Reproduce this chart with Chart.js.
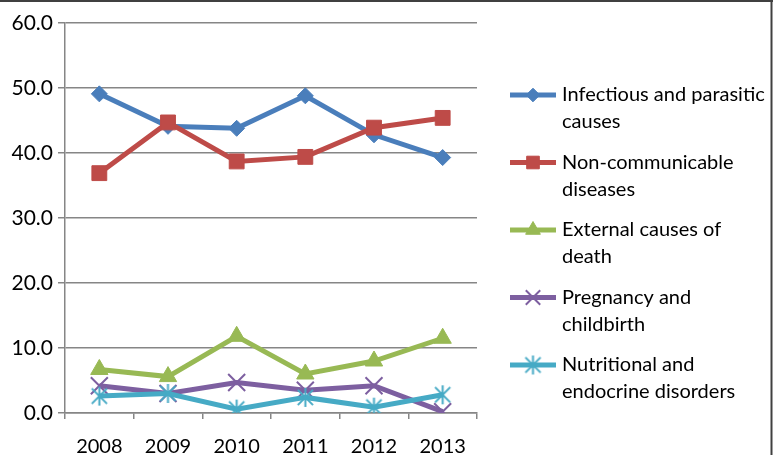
<!DOCTYPE html>
<html>
<head>
<meta charset="utf-8">
<script src="https://cdn.jsdelivr.net/npm/chart.js@4/dist/chart.umd.min.js"></script>
<style>
  html, body { margin: 0; padding: 0; background: #fff; }
  #wrap { position: relative; width: 773px; height: 455px; }
</style>
</head>
<body>
<div id="wrap"><canvas id="c" width="773" height="455"></canvas></div>
<script>
// Share of deaths by cause group, per year (%)
const years = ['2008', '2009', '2010', '2011', '2012', '2013'];
const infectious    = [49.1, 44.1, 43.8, 48.8, 42.8, 39.3];
const nonCommunic   = [36.9, 44.7, 38.7, 39.4, 43.9, 45.4];
const external      = [6.7, 5.6, 11.8, 6.0, 8.0, 11.5];
const pregnancy     = [4.2, 3.0, 4.7, 3.5, 4.2, 0.2];
const nutritional   = [2.6, 3.0, 0.6, 2.4, 0.9, 2.8];
const seriesNames = [
  ['Infectious and parasitic', 'causes'],
  ['Non-communicable', 'diseases'],
  ['External causes of', 'death'],
  ['Pregnancy and', 'childbirth'],
  ['Nutritional and', 'endocrine disorders']
];
const yTicks = [0, 10, 20, 30, 40, 50, 60];

const FONT = 'Lato, "Open Sans", sans-serif';
const colors = ['#4A7EBB', '#BE4B48', '#98B954', '#7D5FA0', '#46AAC5'];

// asterisk marker: an X crossed by a vertical bar
function starMarker(color, size, lw) {
  const c = document.createElement('canvas');
  c.width = size; c.height = size;
  const g = c.getContext('2d');
  g.strokeStyle = color; g.lineWidth = lw; g.lineCap = 'butt';
  const m = size / 2, r = size / 2 - 1;
  const d = r * 0.8;
  g.beginPath();
  g.moveTo(m - d, m - d); g.lineTo(m + d, m + d);
  g.moveTo(m + d, m - d); g.lineTo(m - d, m + d);
  g.moveTo(m, m - r); g.lineTo(m, m + r);
  g.stroke();
  return c;
}

const series = [infectious, nonCommunic, external, pregnancy, nutritional];
const styles = [
  { pointStyle: 'rectRot', radius: 8, bw: 1 },
  { pointStyle: 'rect', radius: 10.5, bw: 1 },
  { pointStyle: 'triangle', radius: 10, bw: 1 },
  { pointStyle: 'crossRot', radius: 12, bw: 2 },
  { pointStyle: starMarker(colors[4], 21, 2), radius: 10, bw: 2 }
];

const datasets = series.map((data, i) => ({
  label: seriesNames[i].join(' '),
  data: data,
  borderColor: colors[i],
  backgroundColor: colors[i],
  borderWidth: 5,
  pointStyle: styles[i].pointStyle,
  pointRadius: styles[i].radius,
  pointBorderWidth: styles[i].bw,
  pointBackgroundColor: colors[i],
  pointBorderColor: colors[i],
  tension: 0,
  order: series.length - i
}));

// legend on the right, two text lines per entry
const sideLegend = {
  id: 'sideLegend',
  afterDraw(chart) {
    const ctx = chart.ctx;
    ctx.save();
    chart.data.datasets.forEach((ds, i) => {
      const y = 95 + i * 67.5;
      ctx.strokeStyle = ds.borderColor;
      ctx.lineWidth = 5;
      ctx.beginPath();
      ctx.moveTo(510, y); ctx.lineTo(556, y);
      ctx.stroke();
      ctx.fillStyle = ds.pointBackgroundColor;
      ctx.strokeStyle = ds.pointBorderColor;
      ctx.lineWidth = ds.pointBorderWidth;
      Chart.helpers.drawPoint(ctx, {
        pointStyle: ds.pointStyle, radius: ds.pointRadius * 0.85, rotation: 0, borderWidth: ds.pointBorderWidth
      }, 533, y);
      ctx.fillStyle = '#000';
      ctx.font = '20px ' + FONT;
      ctx.textBaseline = 'middle';
      ctx.textAlign = 'left';
      seriesNames[i].forEach((line, k) => ctx.fillText(line, 562, y + k * 27));
    });
    // frame edges
    ctx.strokeStyle = '#404040';
    ctx.lineWidth = 2;
    ctx.beginPath();
    ctx.moveTo(0, 1); ctx.lineTo(773, 1);
    ctx.moveTo(771.5, 0); ctx.lineTo(771.5, 455);
    ctx.stroke();
    ctx.restore();
  }
};

new Chart(document.getElementById('c'), {
  type: 'line',
  data: { labels: years, datasets: datasets },
  plugins: [sideLegend],
  options: {
    responsive: false,
    animation: false,
    layout: { padding: { top: 23, right: 296, left: 0, bottom: 0 } },
    plugins: { legend: { display: false }, tooltip: { enabled: false } },
    scales: {
      x: {
        type: 'category',
        offset: true,
        grid: { offset: true, drawOnChartArea: false, drawTicks: true, tickLength: 6, color: '#868686', lineWidth: 1.5 },
        border: { display: true, color: '#868686', width: 1.5 },
        ticks: { color: '#000', font: { family: FONT, size: 20 }, padding: 16, maxRotation: 0 },
        afterFit(scale) { scale.height = 42; }
      },
      y: {
        min: 0, max: 60,
        afterBuildTicks(scale) { scale.ticks = yTicks.map(v => ({ value: v })); },
        grid: { color: '#868686', lineWidth: 1.5, tickLength: 7 },
        border: { display: true, color: '#868686', width: 1.5 },
        ticks: { color: '#000', font: { family: FONT, size: 21 }, padding: 5, callback: v => Number(v).toFixed(1) },
        afterFit(scale) { scale.width = 65; }
      }
    }
  }
});
</script>
</body>
</html>
